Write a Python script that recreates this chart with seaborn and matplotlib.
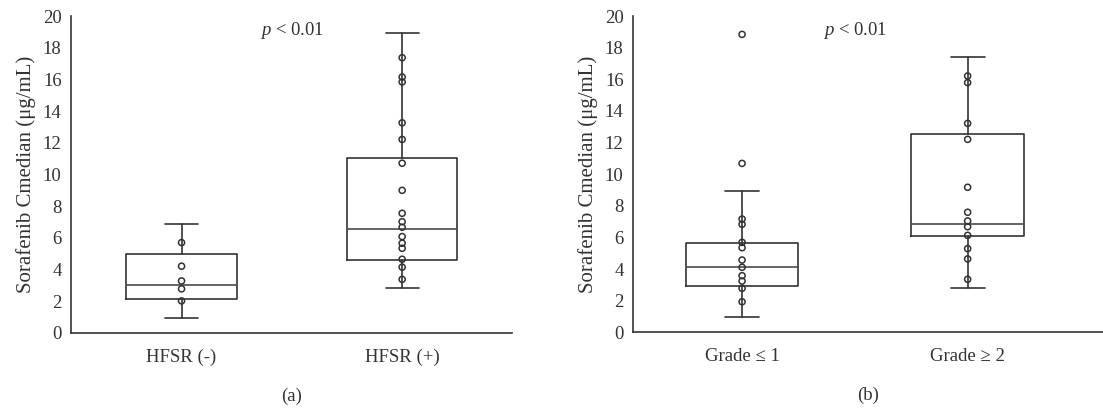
import matplotlib
matplotlib.use("Agg")
import matplotlib.pyplot as plt
import seaborn as sns
import pandas as pd

# ---- data ----
cats_a = ["HFSR (-)", "HFSR (+)"]
pts_a_neg = [5.70, 4.21, 3.28, 2.78, 2.02]
pts_a_pos = [17.37, 16.15, 15.84, 13.26, 12.21, 10.71, 9.00, 7.55, 7.02, 6.67,
             6.08, 5.66, 5.34, 4.65, 4.15, 3.38]
# box stats: whislo, q1, median, q3, whishi
box_a_neg = [0.93, 2.17, 3.03, 4.96, 6.88]
box_a_pos = [2.82, 4.61, 6.56, 11.06, 18.91]

cats_b = ["Grade \u2264 1", "Grade \u2265 2"]
pts_b_low = [18.84, 10.68, 7.16, 6.83, 5.69, 5.35, 4.57, 4.11, 3.58, 3.24, 2.78, 1.93]
pts_b_high = [16.21, 15.79, 13.21, 12.20, 9.17, 7.59, 7.04, 6.68, 6.13, 5.29, 4.64, 3.35]
box_b_low = [0.97, 2.95, 4.11, 5.67, 8.94]
box_b_high = [2.82, 6.11, 6.85, 12.52, 17.39]

y_ticks = list(range(0, 21, 2))
y_label = "Sorafenib Cmedian (\u03bcg/mL)"
p_text = "< 0.01"
panel_labels = ["(a)", "(b)"]

sns.set_theme(style="white")
plt.rcParams["font.family"] = ["Liberation Serif", "DejaVu Serif"]
plt.rcParams["mathtext.fontset"] = "custom"
plt.rcParams["mathtext.it"] = "Liberation Serif:italic"

LC = "#333333"
TC = "#333333"
FS = 13.5

fig = plt.figure(figsize=(11.03, 4.11), dpi=100)
axA = fig.add_axes([0.0646, 0.19, 0.4000, 0.771])
axB = fig.add_axes([0.5742, 0.1915, 0.4258, 0.7695])


def stats(b, label):
    return dict(whislo=b[0], q1=b[1], med=b[2], q3=b[3], whishi=b[4], label=label, fliers=[])


def draw(ax, cats, boxes, pts, xlim, plabel):
    st = [stats(b, c) for b, c in zip(boxes, cats)]
    lp = dict(color=LC, linewidth=1.2)
    ax.bxp(st, positions=[0, 1], widths=0.5, showfliers=False, patch_artist=False,
           boxprops=lp, whiskerprops=lp, capprops=lp,
           medianprops=dict(color="#4a4a4a", linewidth=1.2), capwidths=0.15,
           manage_ticks=False, zorder=2)
    df = pd.DataFrame({
        "group": [cats[0]] * len(pts[0]) + [cats[1]] * len(pts[1]),
        "val": list(pts[0]) + list(pts[1]),
    })
    sns.stripplot(data=df, x="group", y="val", order=cats, jitter=False, ax=ax,
                  marker="o", size=4.4, facecolor="none", edgecolor=LC,
                  linewidth=1.1, zorder=3)
    for col in ax.collections:
        col.set_facecolor("none")
        col.set_edgecolor(LC)
    ax.set_xlim(*xlim)
    ax.set_ylim(0, 20)
    ax.set_yticks(y_ticks)
    ax.set_xticks([0, 1])
    ax.set_xticklabels(cats, fontsize=FS, color=TC)
    ax.tick_params(axis="y", labelsize=FS, labelcolor=TC, length=0, pad=7)
    ax.tick_params(axis="x", length=0, pad=11)
    ax.set_xlabel("")
    ax.set_ylabel(y_label, fontsize=15, color=TC, labelpad=5)
    for s in ["top", "right"]:
        ax.spines[s].set_visible(False)
    for s in ["left", "bottom"]:
        ax.spines[s].set_color(LC)
        ax.spines[s].set_linewidth(1.2)
    ax.text(0.5, 19.1, r"$p$ " + p_text, ha="center", va="center",
            fontsize=FS, color=TC)
    ax.text(0.5, -0.2, plabel, transform=ax.transAxes, ha="center", va="center",
            fontsize=FS, color=TC)
    ax.grid(False)


draw(axA, cats_a, [box_a_neg, box_a_pos], [pts_a_neg, pts_a_pos], (-0.5, 1.5), panel_labels[0])
draw(axB, cats_b, [box_b_low, box_b_high], [pts_b_low, pts_b_high], (-0.482, 1.6), panel_labels[1])

fig.savefig("out.png", dpi=100)
